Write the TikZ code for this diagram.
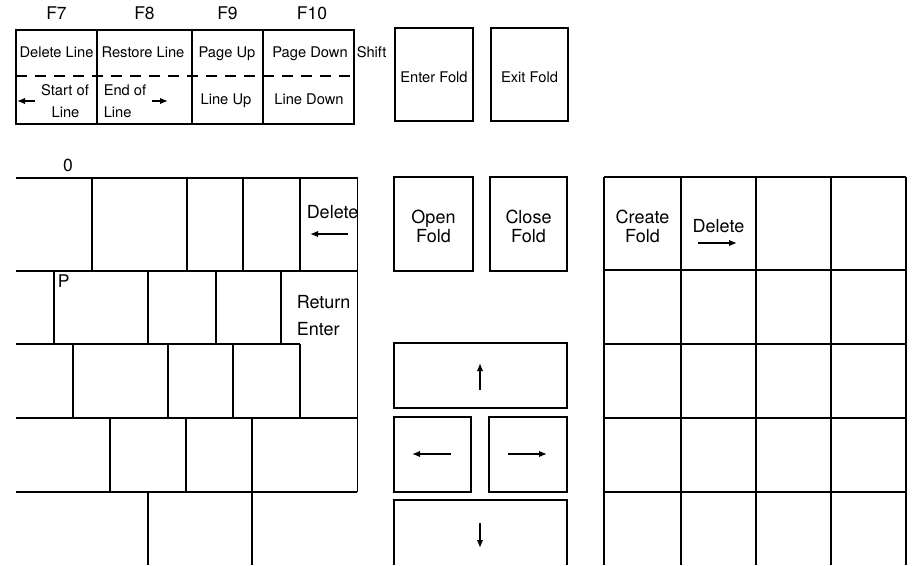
\documentclass[tikz,border=0pt]{standalone}
\usepackage{fontspec}
\setmainfont{TeX Gyre Heros}
\usetikzlibrary{arrows.meta}

\begin{document}
\begin{tikzpicture}[x=1pt,y=-1pt,line width=1.5pt,
    lbl/.style={inner sep=0pt,font=\fontsize{14.7}{16}\selectfont},
    mid/.style={inner sep=0pt,font=\fontsize{17.5}{18}\selectfont},
    big/.style={inner sep=0pt,align=center,font=\fontsize{18}{19}\selectfont},
    keyarrow/.style={line width=1.5pt,-{Latex[length=8pt,width=6.5pt]}}]
    \useasboundingbox (0,0) rectangle (913,565);

    % --- Function keys F7 to F10 ---
    \draw (16,30) rectangle (354,124);
    \foreach \x in {97,192,263} \draw (\x,30) -- (\x,124);
    \draw[dash pattern=on 11pt off 8pt] (16,76) -- (354,76);

    \node[mid,anchor=base] (f7)  at (56.5,19)  {F7};
    \node[mid,anchor=base] (f8)  at (144.5,19) {F8};
    \node[mid,anchor=base] (f9)  at (227.5,19) {F9};
    \node[mid,anchor=base] (f10) at (312,19)   {F10};

    \node[lbl,anchor=base] (delline)  at (56.5,57)  {Delete Line};
    \node[lbl,anchor=base] (resline)  at (143,57)   {Restore Line};
    \node[lbl,anchor=base] (pageup)   at (227,57)   {Page Up};
    \node[lbl,anchor=base] (pagedown) at (310,57)   {Page Down};
    \node[lbl,anchor=base west] (shift) at (356,57) {Shift};

    \node[lbl,anchor=base] (startof)  at (65,95)  {Start of};
    \node[lbl,anchor=base] (startln)  at (65.5,117) {Line};
    \node[lbl,anchor=base west] (endof) at (103,95)  {End of};
    \node[lbl,anchor=base west] (endln) at (103,117) {Line};
    \node[lbl,anchor=base] (lineup)   at (226,104) {Line Up};
    \node[lbl,anchor=base] (linedown) at (309,104) {Line Down};

    \draw[keyarrow] (35,101) -- (17,101);
    \draw[keyarrow] (152,101) -- (168,101);

    % --- Fold keys ---
    \draw (395,28) rectangle (473,121);
    \draw (491,28) rectangle (568,121);
    \node[lbl,anchor=base] (enterfold) at (434,82)   {Enter Fold};
    \node[lbl,anchor=base] (exitfold)  at (529.5,82) {Exit Fold};

    % --- Main keyboard (right hand part) ---
    \node[mid,anchor=base] (zero) at (68,171) {0};
    \foreach \y/\r in {178/358,271/358,344/300,418/357,492/357}
        \draw (16,\y) -- (\r,\y);
    \draw (357.5,178) -- (357.5,492);
    \foreach \x in {92,187,243,300} \draw (\x,178) -- (\x,271);
    \foreach \x in {54,148,216,281} \draw (\x,271) -- (\x,344);
    \foreach \x in {73,168,233,300} \draw (\x,344) -- (\x,418);
    \foreach \x in {110,186,252}    \draw (\x,418) -- (\x,492);
    \foreach \x in {148,252}        \draw (\x,492) -- (\x,565);

    \node[mid,anchor=base west] (pkey) at (57,287) {P};
    \node[big,anchor=base west] (delleft) at (306,218) {Delete};
    \draw[keyarrow] (348,234) -- (310,234);
    \node[big,anchor=base west] (return) at (296,308) {Return};
    \node[big,anchor=base west] (enter)  at (296,335) {Enter};

    % --- Middle cluster ---
    \draw (394,177) rectangle (473,271);
    \draw (490,177) rectangle (567,271);
    \node[big] (openfold)  at (433.5,226) {Open\\Fold};
    \node[big] (closefold) at (528.5,226) {Close\\Fold};

    \draw (394,343) rectangle (567,408);
    \draw (394,417) rectangle (471,492);
    \draw (489,417) rectangle (567,492);
    \draw (394,565) -- (394,500) -- (567,500) -- (567,565);
    \draw[keyarrow] (480,390) -- (480,363);
    \draw[keyarrow] (451,454) -- (412,454);
    \draw[keyarrow] (508,454) -- (547,454);
    \draw[keyarrow] (480,523) -- (480,548);

    % --- Numeric keypad ---
    \foreach \x in {604,681,756,831,906} \draw (\x,177) -- (\x,565);
    \foreach \y in {177,270,344,418,492} \draw (604,\y) -- (906,\y);
    \node[big] (createfold) at (642.5,226) {Create\\Fold};
    \node[big,anchor=base] (delright) at (718.5,232) {Delete};
    \draw[keyarrow] (698,243) -- (737,243);
\end{tikzpicture}
\end{document}
